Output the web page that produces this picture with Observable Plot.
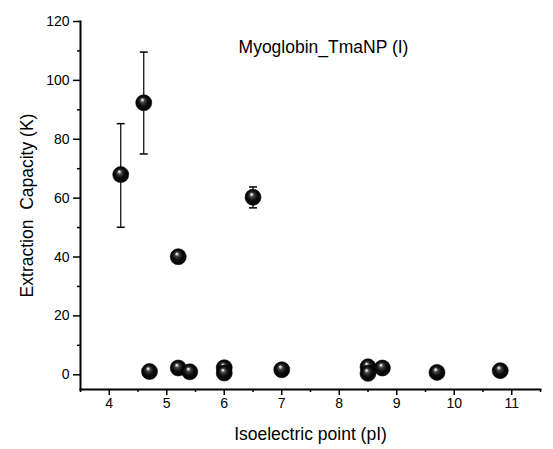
<!DOCTYPE html>
<html>
<head>
<meta charset="utf-8">
<script src="https://cdn.jsdelivr.net/npm/d3@7"></script>
<script src="https://cdn.jsdelivr.net/npm/@observablehq/plot@0.6"></script>
<style>
  html, body { margin: 0; padding: 0; background: #fff; }
  svg text { white-space: pre; }
</style>
</head>
<body>
<div id="chart"></div>
<script>
// Data
const pI       = [4.2, 4.6, 5.2, 6.5, 4.7, 5.2, 5.4, 6.0, 6.0, 7.0, 8.5, 8.5, 8.75, 9.7, 10.8];
const capacity = [68.0, 92.4, 40.1, 60.3, 1.1, 2.3, 1.0, 2.4, 0.6, 1.7, 2.7, 0.5, 2.3, 0.8, 1.4];
const errPI    = [4.2, 4.6, 6.5];
const errLow   = [50.1, 75.0, 56.7];
const errHigh  = [85.3, 109.6, 63.8];
const xMajorTicks = [4, 5, 6, 7, 8, 9, 10, 11];
const xMinorTicks = [3.5, 4.5, 5.5, 6.5, 7.5, 8.5, 9.5, 10.5, 11.5];
const yMajorTicks = [0, 20, 40, 60, 80, 100, 120];
const yMinorTicks = [10, 30, 50, 70, 90, 110];
const titleText = "Myoglobin_TmaNP (I)";
const xLabel = "Isoelectric point (pI)";
const yLabel = "Extraction  Capacity (K)";

const points = pI.map((x, i) => ({x, y: capacity[i]}));
const errs = errPI.map((x, i) => ({x, lo: errLow[i], hi: errHigh[i]}));

const capSymbol = {
  draw(context, size) {
    const w = 4;
    context.moveTo(-w, 0);
    context.lineTo(w, 0);
  }
};

const font = "'Liberation Sans', Arial, sans-serif";

const chart = Plot.plot({
  width: 553,
  height: 449,
  marginLeft: 80,
  marginRight: 13,
  marginTop: 21,
  marginBottom: 60,
  style: {fontFamily: font, fontSize: "14px", color: "#000", background: "#fff"},
  x: {domain: [3.5, 11.5]},
  y: {domain: [-5, 120]},
  marks: [
    Plot.axisX(xMinorTicks, {tickSize: 3, text: null, label: null, strokeWidth: 1.5}),
    Plot.axisX(xMajorTicks, {tickSize: 6, tickPadding: 3, strokeWidth: 1.5, fontSize: 14,
      label: xLabel, labelAnchor: "center", labelOffset: 50, labelArrow: "none"}),
    Plot.axisY(yMinorTicks, {tickSize: 3, text: null, label: null, strokeWidth: 1.5}),
    Plot.axisY(yMajorTicks, {tickSize: 7, tickPadding: 4, strokeWidth: 1.5, fontSize: 14,
      label: yLabel, labelAnchor: "center", labelOffset: 60, labelArrow: "none"}),
    Plot.frame({anchor: "bottom", strokeWidth: 2}),
    Plot.frame({anchor: "left", strokeWidth: 2}),
    Plot.ruleX(errs, {x: "x", y1: "lo", y2: "hi", stroke: "#000", strokeWidth: 1.2}),
    Plot.dot(errs, {x: "x", y: "lo", symbol: capSymbol, stroke: "#000", strokeWidth: 1.5, fill: "none"}),
    Plot.dot(errs, {x: "x", y: "hi", symbol: capSymbol, stroke: "#000", strokeWidth: 1.5, fill: "none"}),
    Plot.dot(points, {x: "x", y: "y", r: 8, fill: "url(#sphereGrad)", stroke: "#000", strokeWidth: 0.6}),
    Plot.text([titleText], {frameAnchor: "top", dx: 13, dy: 19, fontSize: 17.5, fill: "#000"})
  ]
});

// sphere shading gradient
const svgNS = "http://www.w3.org/2000/svg";
const defs = document.createElementNS(svgNS, "defs");
defs.innerHTML = `
  <radialGradient id="sphereGrad" cx="50%" cy="50%" r="55%" fx="40%" fy="30%">
    <stop offset="0%" stop-color="#ffffff"/>
    <stop offset="10%" stop-color="#c8c8c8"/>
    <stop offset="25%" stop-color="#444444"/>
    <stop offset="55%" stop-color="#0c0c0c"/>
    <stop offset="100%" stop-color="#000000"/>
  </radialGradient>`;
chart.insertBefore(defs, chart.firstChild);

// font sizes
chart.querySelectorAll("g[aria-label='x-axis tick label'], g[aria-label='y-axis tick label']")
  .forEach(g => { g.setAttribute("font-size", "14"); g.style.fontSize = "14px"; g.setAttribute("fill", "#000"); });
chart.querySelectorAll("g[aria-label='x-axis label'], g[aria-label='y-axis label']")
  .forEach(g => { g.setAttribute("font-size", "17.5"); g.style.fontSize = "17.5px"; });

document.getElementById("chart").appendChild(chart);
</script>
</body>
</html>
